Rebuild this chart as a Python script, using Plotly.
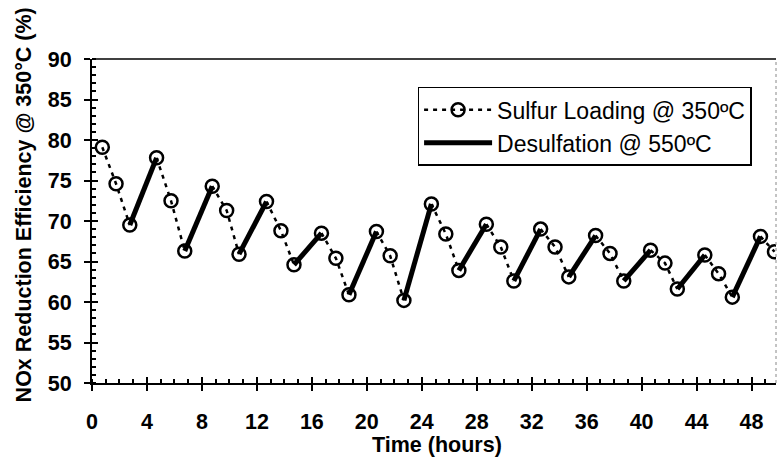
import plotly.graph_objects as go

# Sulfur-loading measurements (hours, % NOx reduction), one group of three per cycle
load_t = [
    [0.75, 1.75, 2.75],
    [4.7, 5.75, 6.75],
    [8.75, 9.8, 10.7],
    [12.7, 13.75, 14.7],
    [16.7, 17.75, 18.7],
    [20.7, 21.7, 22.7],
    [24.7, 25.75, 26.7],
    [28.7, 29.75, 30.7],
    [32.65, 33.7, 34.7],
    [36.65, 37.7, 38.7],
    [40.65, 41.7, 42.6],
    [44.6, 45.6, 46.6],
    [48.65, 49.67],
]
load_v = [
    [79.1, 74.6, 69.5],
    [77.8, 72.5, 66.3],
    [74.3, 71.3, 65.9],
    [72.4, 68.8, 64.6],
    [68.5, 65.4, 60.9],
    [68.7, 65.7, 60.2],
    [72.1, 68.4, 63.9],
    [69.6, 66.8, 62.6],
    [69.0, 66.8, 63.1],
    [68.2, 66.0, 62.6],
    [66.4, 64.8, 61.6],
    [65.8, 63.5, 60.6],
    [68.1, 66.2],
]

tick_vals_x = [0, 4, 8, 12, 16, 20, 24, 28, 32, 36, 40, 44, 48]
tick_vals_y = [50, 55, 60, 65, 70, 75, 80, 85, 90]
x_range = [0, 49.78]
y_range = [50, 90]


def with_gaps(groups):
    out = []
    for i, g in enumerate(groups):
        if i:
            out.append(None)
        out.extend(g)
    return out


# Desulfation steps join the last loading point of a cycle to the first of the next
des_t, des_v = [], []
for i in range(len(load_t) - 1):
    if i:
        des_t.append(None)
        des_v.append(None)
    des_t += [load_t[i][-1], load_t[i + 1][0]]
    des_v += [load_v[i][-1], load_v[i + 1][0]]

fig = go.Figure()
fig.add_trace(go.Scatter(
    x=with_gaps(load_t), y=with_gaps(load_v),
    mode="lines+markers",
    name="Sulfur Loading @ 350ºC",
    line=dict(color="black", width=2.5, dash="4px,5px"),
    marker=dict(symbol="circle-open", size=13, color="black",
                line=dict(width=2.5, color="black")),
    connectgaps=False,
))
fig.add_trace(go.Scatter(
    x=des_t, y=des_v,
    mode="lines",
    name="Desulfation @ 550ºC",
    line=dict(color="black", width=5),
    connectgaps=False,
))

FAMILY = "Liberation Sans, Arial, sans-serif"
tick_font = dict(family=FAMILY, size=21.5, color="black")
title_font = dict(family=FAMILY, size=21.5, color="black")

axis_common = dict(
    ticks="outside", ticklen=6, tickwidth=2, tickcolor="black",
    showline=True, linecolor="black", linewidth=2,
    showgrid=False, zeroline=False, tickfont=tick_font,
)

fig.update_layout(
    width=777, height=457,
    margin=dict(l=92, r=1, t=59, b=74),
    paper_bgcolor="white", plot_bgcolor="white",
    font=dict(family=FAMILY, size=17, color="black"),
    showlegend=True,
    legend=dict(
        x=0.476, y=0.914, xanchor="left", yanchor="top",
        bgcolor="white", bordercolor="black", borderwidth=1.5,
        font=dict(family=FAMILY, size=23, color="black"), itemwidth=68,
        tracegroupgap=0, traceorder="normal",
    ),
    xaxis=dict(
        range=x_range, tickvals=tick_vals_x,
        ticktext=[f"<b>{v}</b>" for v in tick_vals_x],
        ticklabelstandoff=12,
        minor=dict(dtick=1, ticks="inside", ticklen=4, tickwidth=1.5, tickcolor="black"),
        **axis_common,
    ),
    yaxis=dict(
        range=y_range, tickvals=tick_vals_y,
        ticktext=[f"<b>{v}</b>" for v in tick_vals_y],
        ticklabelstandoff=8,
        minor=dict(dtick=1, ticks="inside", ticklen=4, tickwidth=1.5, tickcolor="black"),
        **axis_common,
    ),
    # inward half of the crossing major ticks
    xaxis2=dict(
        overlaying="x", anchor="y", side="bottom", range=x_range,
        tickvals=tick_vals_x, showticklabels=False,
        ticks="inside", ticklen=6, tickwidth=2, tickcolor="black",
        showline=False, showgrid=False, zeroline=False,
    ),
    yaxis2=dict(
        overlaying="y", anchor="x", side="left", range=y_range,
        tickvals=tick_vals_y, showticklabels=False,
        ticks="inside", ticklen=6, tickwidth=2, tickcolor="black",
        showline=False, showgrid=False, zeroline=False,
    ),
    annotations=[
        dict(text="<b>NOx Reduction Efficiency @ 350°C (%)</b>",
             textangle=-90, font=title_font,
             xref="paper", yref="paper", x=-0.1, y=0.55,
             xanchor="center", yanchor="middle", showarrow=False),
        dict(text="<b>Time (hours)</b>", font=title_font,
             xref="paper", yref="paper", x=0.505, y=-0.19,
             xanchor="center", yanchor="middle", showarrow=False),
    ],
    shapes=[
        dict(type="line", xref="paper", yref="paper", x0=0, x1=1, y0=1, y1=1,
             line=dict(color="black", width=1.5)),
        dict(type="line", xref="paper", yref="paper", x0=1, x1=1, y0=0, y1=1,
             line=dict(color="#888", width=1, dash="dot")),
    ],
)

# invisible anchor trace so the overlay axes are drawn
fig.add_trace(go.Scatter(x=[None], y=[None], xaxis="x2", yaxis="y2",
                         showlegend=False, hoverinfo="skip"))

fig.write_html("out.html")
